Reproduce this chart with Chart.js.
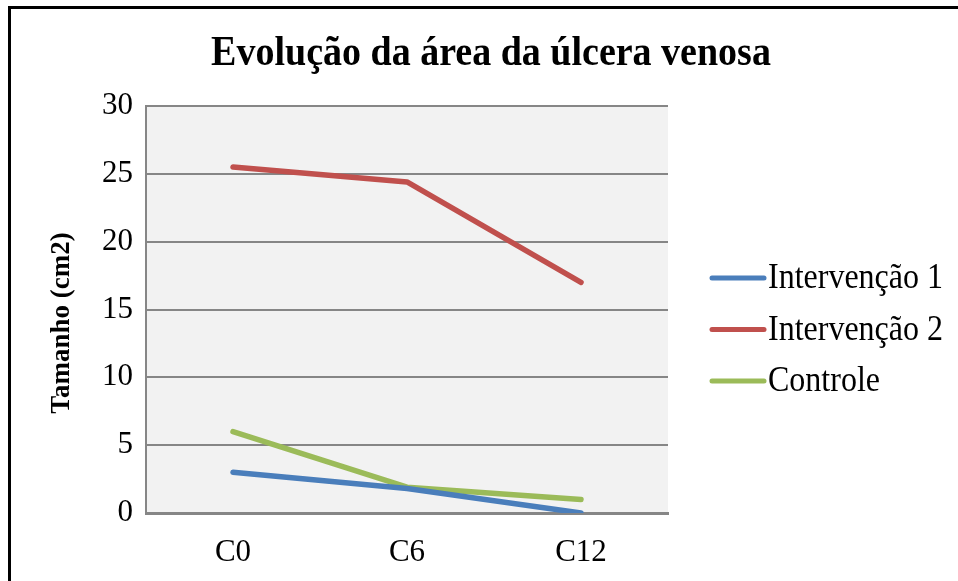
<!DOCTYPE html>
<html>
<head>
<meta charset="utf-8">
<script src="https://cdn.jsdelivr.net/npm/chart.js@4/dist/chart.umd.min.js"></script>
<style>
body{margin:0;background:#fff;}
#wrap{position:relative;width:958px;height:581px;}
#frame{position:absolute;left:8px;top:6px;width:950px;height:575px;border-top:3px solid #000;border-left:3px solid #000;pointer-events:none;}
</style>
</head>
<body>
<div id="wrap">
<canvas id="chart" width="958" height="581"></canvas>
<div id="frame"></div>
</div>
<script>
const FONT = "'Liberation Serif', 'Times New Roman', serif";

// data
const categories = ["C0","C6","C12"];
const intervencao1 = [3, 1.8, 0];
const intervencao2 = [25.5, 24.4, 17];
const controle = [6, 1.9, 1];
const yTicks = [0,5,10,15,20,25,30];

const titleText = "Evolução da área da úlcera venosa";
const yTitle = "Tamanho (cm2)";

// -----------------------------
// PLUGINS
// -----------------------------

const plotBg = {
id:"plotBg",
beforeDraw(chart){
const {ctx,chartArea:a} = chart;
ctx.save();
ctx.fillStyle="#f2f2f2";
ctx.fillRect(a.left,a.top,a.right-a.left,a.bottom-a.top);
ctx.restore();
}
};

const texts = {
id:"texts",
afterDraw(chart){
const ctx = chart.ctx;
ctx.save();
ctx.fillStyle="#000";
ctx.textAlign="center";
ctx.textBaseline="middle";
ctx.save();
ctx.translate(491,54);
ctx.scale(1,1.1);   // reference text is a bit taller
ctx.font="bold 38px "+FONT;
ctx.fillText(titleText,0,0);
ctx.restore();

ctx.translate(62,323);
ctx.rotate(-Math.PI/2);
ctx.font="bold 27px "+FONT;
ctx.fillText(yTitle,0,0);
ctx.restore();

// legend
ctx.save();
ctx.font="32px "+FONT;
ctx.textAlign="left";
ctx.textBaseline="middle";
chart.data.datasets.forEach((ds,i)=>{
let y = 278 + i*51.5;
ctx.strokeStyle=ds.borderColor;
ctx.lineWidth=5;
ctx.lineCap="round";
ctx.beginPath();
ctx.moveTo(712,y);
ctx.lineTo(764,y);
ctx.stroke();
ctx.fillStyle="#000";
ctx.save();
ctx.translate(768,y+1);
ctx.scale(1,1.1);
ctx.fillText(ds.label,0,0);
ctx.restore();
});
ctx.restore();
}
};

// -----------------------------
// CHART
// -----------------------------

function line(label,data,color){
return {
label:label,
data:data,
borderColor:color,
backgroundColor:color,
borderWidth:5.5,
pointRadius:0,
tension:0,
borderCapStyle:"round",
borderJoinStyle:"round"
};
}

new Chart(document.getElementById("chart"),{
type:"line",
data:{
labels:categories,
datasets:[
line("Intervenção 1",intervencao1,"#4a7ebb"),
line("Intervenção 2",intervencao2,"#c0504d"),
line("Controle",controle,"#9bbb59")
]
},
options:{
responsive:false,
animation:false,
devicePixelRatio:1,
layout:{padding:{top:106,right:290,bottom:0,left:0}},
plugins:{legend:{display:false},title:{display:false},tooltip:{enabled:false}},
scales:{
x:{
offset:true,
afterFit(s){ s.height=68; },
grid:{display:false},
border:{display:true,color:"#868686",width:3},
ticks:{color:"#000",font:{family:FONT,size:31},padding:13}
},
y:{
min:0,max:30,
afterFit(s){ s.width=146; },
afterBuildTicks(s){ s.ticks=yTicks.map(v=>({value:v})); },
grid:{color:"#868686",lineWidth:2,drawTicks:false},
border:{display:true,color:"#868686",width:2},
ticks:{color:"#000",font:{family:FONT,size:31},padding:13}
}
}
},
plugins:[plotBg,texts]
});
</script>
</body>
</html>
